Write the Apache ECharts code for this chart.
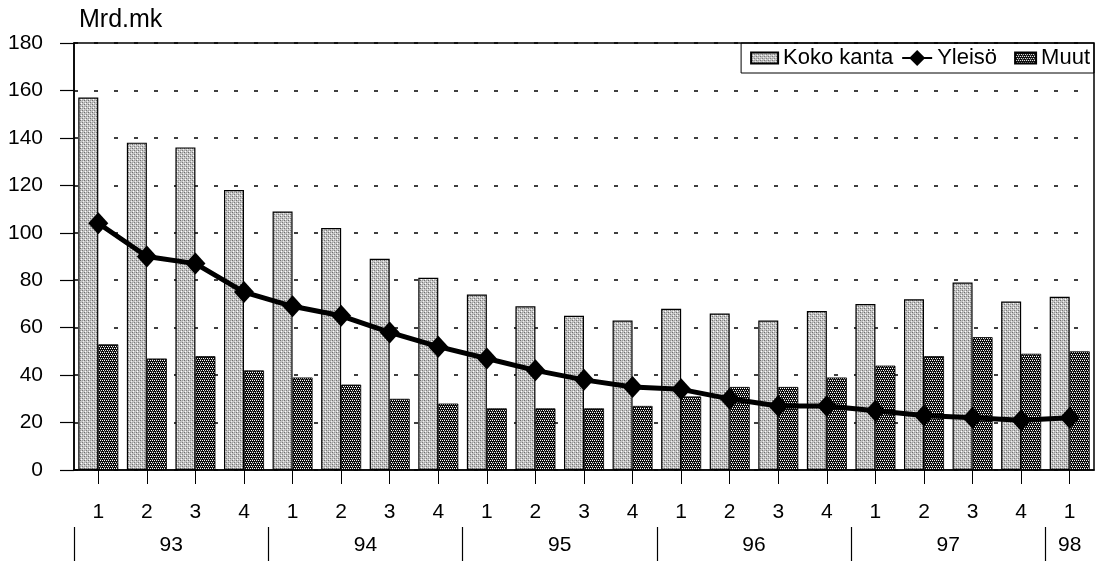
<!DOCTYPE html>
<html>
<head>
<meta charset="utf-8">
<script src="https://cdn.jsdelivr.net/npm/echarts@6/dist/echarts.min.js"></script>
<style>
html,body{margin:0;padding:0;background:#fff;}
#chart{width:1097px;height:561px;}
</style>
</head>
<body>
<div id="chart"></div>
<script>
// ---- data ----
var quarters = ['1','2','3','4','1','2','3','4','1','2','3','4','1','2','3','4','1','2','3','4','1'];
var years = ['93','94','95','96','97','98'];
var yearQuarterCounts = [4,4,4,4,4,1];
var kokoKanta = [157,138,136,118,109,102,89,81,74,69,65,63,68,66,63,67,70,72,79,71,73];
var yleiso = [104,90,87,75,69,65,58,52,47,42,38,35,34,30,27,27,25,23,22,21,22];
var muut = [53,47,48,42,39,36,30,28,26,26,26,27,31,35,35,39,44,48,56,49,50];
var yTicks = {min:0, max:180, interval:20};

// ---- patterns ----
function makePattern(w,h,bg,pixels){
  var c=document.createElement('canvas'); c.width=w; c.height=h;
  var g=c.getContext('2d'); g.fillStyle=bg; g.fillRect(0,0,w,h);
  pixels.forEach(function(p){ g.fillStyle=p[2]; g.fillRect(p[0],p[1],1,1); });
  return {image:c, repeat:'repeat'};
}
var kokoPattern = makePattern(4,4,'#c4c4c4',[[0,0,'#6e6e6e'],[2,2,'#7a7a7a'],[1,3,'#ffffff'],[3,1,'#eeeeee'],[2,0,'#9a9a9a'],[0,2,'#a0a0a0']]);
var muutPattern = makePattern(4,4,'#0c0c0c',[[0,0,'#ffffff'],[2,0,'#ffffff'],[1,2,'#dddddd'],[3,2,'#ffffff'],[0,3,'#666666']]);

// ---- year axis slots (half-quarter resolution, positions 0..21) ----
var nQ = quarters.length;
var slots = [], sepIdx = {};
(function(){
  for (var i=0;i<=nQ*2;i++) slots.push('');
  var start=0;
  for (var y=0;y<years.length;y++){
    sepIdx[start*2]=true;
    var centre = start + yearQuarterCounts[y]/2;
    slots[Math.round(centre*2)] = years[y];
    start += yearQuarterCounts[y];
  }
})();

var FONT = '"Liberation Sans", Arial, sans-serif';
var chart = echarts.init(document.getElementById('chart'), null, {renderer:'canvas'});
chart.setOption({
  animation:false,
  backgroundColor:'#fff',
  textStyle:{fontFamily:FONT, color:'#000'},
  grid:{left:74, right:-2, top:43, bottom:91, show:true, borderColor:'#000', borderWidth:1.5, backgroundColor:'transparent'},
  legend:{
    right:3, top:43, orient:'horizontal',
    borderColor:'#000', borderWidth:1, padding:[4,4,4,6],
    itemWidth:30, itemHeight:20, itemGap:8,
    textStyle:{fontSize:22, fontFamily:FONT, color:'#000'},
    data:[
      {name:'Koko kanta', icon:'path://M0,0 M30,20 M3,4.5 L30,4.5 L30,15.5 L3,15.5 Z'},
      {name:'Yleisö'},
      {name:'Muut', icon:'path://M0,0 M30,20 M9,4.5 L30,4.5 L30,15.5 L9,15.5 Z'}
    ]
  },
  xAxis:[{
    type:'category', data:quarters, position:'bottom',
    axisLine:{show:true, lineStyle:{color:'#000', width:1.5}},
    axisTick:{show:true, alignWithLabel:true, length:14, lineStyle:{color:'#000', width:1}},
    axisLabel:{fontSize:21, color:'#000', margin:32, fontFamily:FONT},
    splitLine:{show:false}
  },{
    type:'category', data:slots, position:'bottom', boundaryGap:false, offset:57,
    axisLine:{show:false},
    axisTick:{show:true, length:34, interval:function(i){return !!sepIdx[i];}, lineStyle:{color:'#000', width:1.2}},
    axisLabel:{show:true, interval:0, fontSize:21, color:'#000', margin:8, fontFamily:FONT, showMinLabel:true, showMaxLabel:true},
    splitLine:{show:false}
  }],
  yAxis:{
    type:'value', min:yTicks.min, max:yTicks.max, interval:yTicks.interval,
    name:'Mrd.mk', nameLocation:'end', nameGap:10,
    nameTextStyle:{fontSize:25, color:'#000', align:'left', padding:[0,0,0,5], fontFamily:FONT},
    axisLine:{show:true, lineStyle:{color:'#000', width:1.5}},
    axisTick:{show:true, length:14, lineStyle:{color:'#000', width:1.2}},
    axisLabel:{fontSize:21, color:'#000', margin:31, fontFamily:FONT},
    splitLine:{show:true, lineStyle:{color:'#000', width:1.5, type:[4,16]}}
  },
  series:[{
    name:'Koko kanta', type:'bar', data:kokoKanta, barWidth:20, barGap:'0%',
    itemStyle:{color:kokoPattern, borderColor:'#000', borderWidth:1.2}
  },{
    name:'Muut', type:'bar', data:muut, barWidth:20, barGap:'0%',
    itemStyle:{color:muutPattern, borderColor:'#000', borderWidth:0.8}
  },{
    name:'Yleisö', type:'line', data:yleiso, z:5,
    symbol:'diamond', symbolSize:[20,22],
    lineStyle:{color:'#000', width:5},
    itemStyle:{color:'#000'}
  }]
});
</script>
</body>
</html>
